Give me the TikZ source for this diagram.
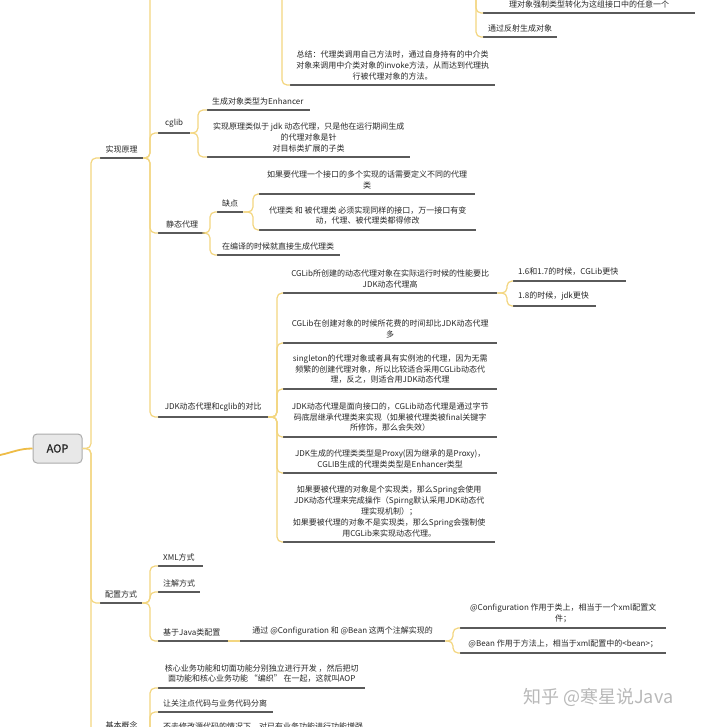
\documentclass[tikz,border=0pt]{standalone}
\usepackage{fontspec}
\newfontfamily\cjk{Noto Sans CJK SC}
\newfontfamily\cjkb[FakeBold=1.2]{Noto Sans CJK SC}
\definecolor{connc}{RGB}{243,214,128}
\definecolor{ulc}{RGB}{90,90,90}
\definecolor{rootc}{RGB}{238,188,70}
\definecolor{txt}{RGB}{40,40,40}
\tikzset{
  ulline/.style={draw=ulc, line width=1.2pt},
  conn/.style={draw=connc, line width=1.2pt, rounded corners=5pt},
  rootline/.style={draw=rootc, line width=1.8pt},
  item/.style={font=\cjk\fontsize{8}{10.8}\selectfont, text=txt, inner xsep=5pt, inner ysep=5pt,
    anchor=south west, align=center,
    append after command={(\tikzlastnode.south west) edge[ulline] (\tikzlastnode.south east)}},
  box/.style={item, minimum width=#1},
  lbox/.style={item, text width=#1, align=left},
  aopbox/.style={draw=gray!65, fill=gray!18, line width=1pt, rounded corners=4pt,
    minimum width=49pt, minimum height=29pt, inner sep=0pt, text=txt,
    font=\cjkb\fontsize{11}{13}\selectfont},
  mark text/.style={font=\cjk\fontsize{18}{20}\selectfont, text=gray!55, anchor=west, inner sep=0pt}
}
\newcommand{\linkto}[3]{\draw[conn] (#1.south east) -| ([xshift=-#3pt]#2.south west) -- (#2.south west);}
\begin{document}
\begin{tikzpicture}[x=1pt,y=-1pt]
\useasboundingbox (0,0) rectangle (720,727);
\clip (0,0) rectangle (720,727);
\fill[white] (0,0) rectangle (720,727);

% off-image parents
\coordinate (topC) at (150,-40);
\coordinate (topZ) at (282,-40);
\coordinate (topQ) at (476,-40);
\coordinate (root) at (0,455);

% top, partly visible
\node[box=205pt] (zongjie) at (290,85) {总结：代理类调用自己方法时，通过自身持有的中介类\\对象来调用中介类对象的invoke方法，从而达到代理执\\行被代理对象的方法。};
\node[box=212pt] (qiangzhi) at (483,13) {理对象强制类型转化为这组接口中的任意一个};
\node[lbox=64pt] (fanshe) at (483,37) {通过反射生成对象};

% root
\node[aopbox] (aop) at (57.5,448.5) {AOP};

% level 1
\node[box=43pt] (shixian) at (100,158) {实现原理};
\node[box=42pt] (peizhi) at (100,603) {配置方式};
\node[box=43pt] (jiben) at (100,734) {基本概念};

% under 实现原理
\node[box=32pt] (cglib) at (158,133) {cglib};
\node[box=48pt] (jingtai) at (158,233) {静态代理};
\node[box=110pt] (duibi) at (158,417) {JDK动态代理和cglib的对比};

% under cglib
\node[lbox=93pt] (enh) at (207,110) {生成对象类型为Enhancer};
\node[box=203pt] (cgyl) at (207,157) {实现原理类似于 jdk 动态代理，只是他在运行期间生成\\的代理对象是针\\对目标类扩展的子类};

% under 静态代理
\node[lbox=16pt] (quedian) at (217,212) {缺点};
\node[lbox=113pt] (bianyi) at (217,255) {在编译的时候就直接生成代理类};
\node[box=216pt] (q1) at (259,194) {如果要代理一个接口的多个实现的话需要定义不同的代理\\类};
\node[box=217pt] (q2) at (259,230) {代理类 和 被代理类 必须实现同样的接口，万一接口有变\\动，代理、被代理类都得修改};

% under 对比
\node[box=214pt] (d1) at (283,293) {CGLib所创建的动态代理对象在实际运行时候的性能要比\\JDK动态代理高};
\node[box=214pt] (d2) at (283,343) {CGLib在创建对象的时候所花费的时间却比JDK动态代理\\多};
\node[box=214pt] (d3) at (283,389) {singleton的代理对象或者具有实例池的代理，因为无需\\频繁的创建代理对象，所以比较适合采用CGLib动态代\\理，反之，则适合用JDK动态代理};
\node[box=214pt] (d4) at (283,437) {JDK动态代理是面向接口的，CGLib动态代理是通过字节\\码底层继承代理类来实现（如果被代理类被final关键字\\所修饰，那么会失效）};
\node[box=214pt] (d5) at (283,473) {JDK生成的代理类类型是Proxy(因为继承的是Proxy)，\\CGLIB生成的代理类类型是Enhancer类型};
\node[box=212pt] (d6) at (283,542) {如果要被代理的对象是个实现类，那么Spring会使用\\JDK动态代理来完成操作（Spirng默认采用JDK动态代\\理实现机制）；\\如果要被代理的对象不是实现类，那么Spring会强制使\\用CGLib来实现动态代理。};
\node[lbox=103pt] (v1) at (513,281) {1.6和1.7的时候，CGLib更快};
\node[lbox=73pt] (v2) at (513,306) {1.8的时候，jdk更快};

% under 配置方式
\node[lbox=35pt] (xml) at (158,566) {XML方式};
\node[lbox=32pt] (zhujie) at (158,592) {注解方式};
\node[lbox=60pt] (java) at (158,641) {基于Java类配置};
\node[box=205pt] (tongguo) at (240,641) {通过 @Configuration 和 @Bean 这两个注解实现的};
\node[box=206pt] (conf) at (460,628) {@Configuration 作用于类上，相当于一个xml配置文\\件；};
\node[box=206pt] (bean) at (460,653) {@Bean 作用于方法上，相当于xml配置中的<bean>；};

% under 基本概念
\node[box=207pt] (k1) at (158,688) {核心业务功能和切面功能分别独立进行开发 ，然后把切\\面功能和核心业务功能 “编织” 在一起，这就叫AOP};
\node[lbox=105pt] (k2) at (158,712) {让关注点代码与业务代码分离};
\node[lbox=200pt] (k3) at (158,736) {不去修改源代码的情况下，对已有业务功能进行功能增强};

% watermark
\node[mark text] (wm) at (523,697) {知乎 @寒星说Java};

% connectors
\draw[rootline] (root) to[out=12,in=180] (aop.west);
\draw[conn] (aop.east) -| ([xshift=-9pt]shixian.south west) -- (shixian.south west);
\draw[conn] (aop.east) -| ([xshift=-9pt]peizhi.south west) -- (peizhi.south west);
\draw[conn] (aop.east) -| ([xshift=-9pt]jiben.south west) -- (jiben.south west);

\draw[conn] (shixian.south east) -| (topC);
\linkto{shixian}{cglib}{8}
\linkto{shixian}{jingtai}{8}
\linkto{shixian}{duibi}{8}

\draw[conn] (topZ) |- (zongjie.south west);
\draw[conn] (topQ) |- (qiangzhi.south west);
\draw[conn] (topQ) |- (fanshe.south west);

\linkto{cglib}{enh}{9}
\linkto{cglib}{cgyl}{9}
\linkto{jingtai}{quedian}{7}
\linkto{jingtai}{bianyi}{7}
\linkto{quedian}{q1}{6}
\linkto{quedian}{q2}{6}

\linkto{duibi}{d1}{6}
\linkto{duibi}{d2}{6}
\linkto{duibi}{d3}{6}
\linkto{duibi}{d4}{6}
\linkto{duibi}{d5}{6}
\linkto{duibi}{d6}{6}
\linkto{d1}{v1}{6}
\linkto{d1}{v2}{6}

\linkto{peizhi}{xml}{8}
\linkto{peizhi}{zhujie}{8}
\linkto{peizhi}{java}{8}
\draw[conn] (java.south east) -- (tongguo.south west);
\linkto{tongguo}{conf}{7}
\linkto{tongguo}{bean}{7}

\linkto{jiben}{k1}{8}
\linkto{jiben}{k2}{8}
\linkto{jiben}{k3}{8}
\end{tikzpicture}
\end{document}
